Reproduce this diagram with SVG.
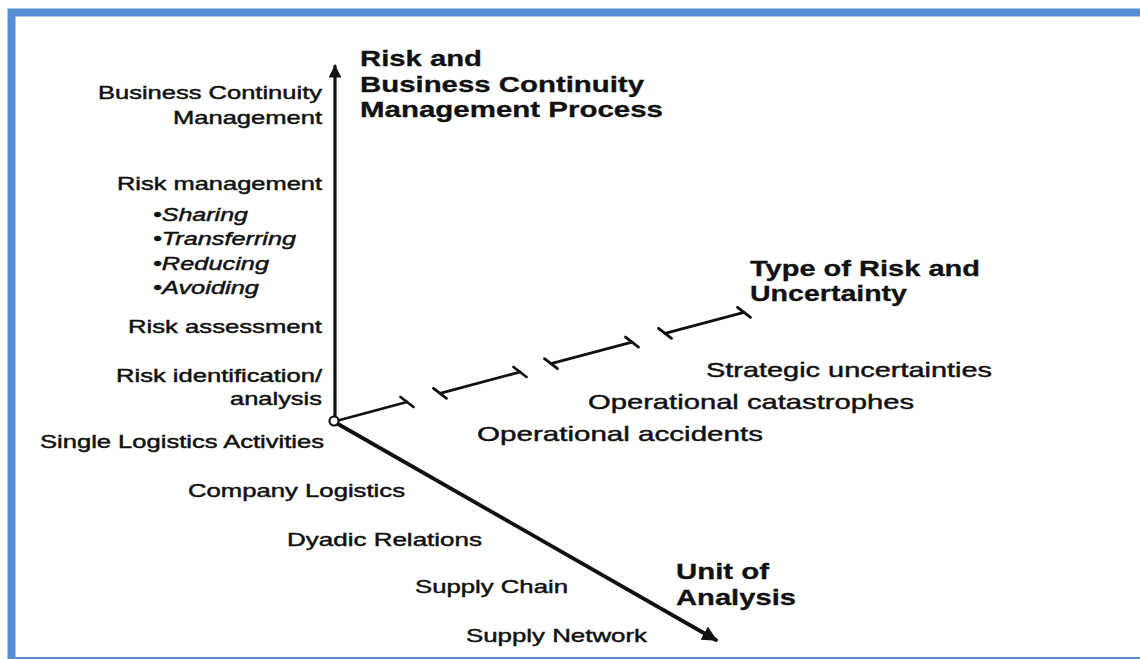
<svg xmlns="http://www.w3.org/2000/svg" width="1140" height="659" viewBox="0 0 1140 659">
<style>
text{font-family:"Liberation Sans",Arial,sans-serif;fill:#111;stroke:#111;stroke-width:0.45px;}
.r{font-size:18.5px;}
.m{font-size:21px;}
.i{font-size:18.5px;font-style:italic;}
.b{font-size:21.5px;font-weight:bold;stroke-width:0.3px;}
.ax{stroke:#111;fill:none;stroke-linecap:round;}
</style>
<defs>
<marker id="ah" viewBox="0 0 10 10" refX="9" refY="5" markerWidth="4" markerHeight="4" orient="auto" markerUnits="strokeWidth">
<path d="M0,0 L10,5 L0,10 z" fill="#111"/>
</marker>
</defs>
<rect x="0" y="0" width="1140" height="659" fill="#fff"/>
<rect x="11.5" y="12.5" width="1150" height="648.5" fill="none" stroke="#558ed5" stroke-width="8"/>
<g id="connectors">
<line class="ax" x1="335" y1="418" x2="335" y2="66" stroke-width="3.2" marker-end="url(#ah)"/>
<line class="ax" x1="338" y1="424" x2="716" y2="640" stroke-width="3.8" marker-end="url(#ah)"/>
<g class="ax" stroke-width="2.8">
<line x1="338" y1="420.5" x2="407" y2="402"/>
<line x1="400.5" y1="397" x2="413.5" y2="407"/>
<line x1="440" y1="393.3" x2="520" y2="372"/>
<line x1="433.5" y1="388.3" x2="446.5" y2="398.3"/>
<line x1="513.5" y1="367" x2="526.5" y2="377"/>
<line x1="551" y1="363.7" x2="632" y2="342.1"/>
<line x1="544.5" y1="358.7" x2="557.5" y2="368.7"/>
<line x1="625.5" y1="337.1" x2="638.5" y2="347.1"/>
<line x1="665" y1="333.3" x2="744" y2="312.3"/>
<line x1="658.5" y1="328.3" x2="671.5" y2="338.3"/>
<line x1="737.5" y1="307.3" x2="750.5" y2="317.3"/>
</g>
<circle cx="334" cy="421" r="4.5" fill="#fff" stroke="#111" stroke-width="2.2"/>
</g>
<g id="axis-process-title">
<text class="b" x="360" y="66" textLength="122" lengthAdjust="spacingAndGlyphs">Risk and</text>
<text class="b" x="360" y="92" textLength="284" lengthAdjust="spacingAndGlyphs">Business Continuity</text>
<text class="b" x="360" y="117" textLength="303" lengthAdjust="spacingAndGlyphs">Management Process</text>
</g>
<g id="bcm">
<text class="r" x="98" y="99" textLength="224" lengthAdjust="spacingAndGlyphs">Business Continuity</text>
<text class="r" x="173" y="124" textLength="149" lengthAdjust="spacingAndGlyphs">Management</text>
</g>
<g id="risk-management">
<text class="r" x="117" y="190" textLength="205" lengthAdjust="spacingAndGlyphs">Risk management</text>
<text class="i" x="153" y="221" textLength="95" lengthAdjust="spacingAndGlyphs">•Sharing</text>
<text class="i" x="153" y="245" textLength="143" lengthAdjust="spacingAndGlyphs">•Transferring</text>
<text class="i" x="153" y="270" textLength="116" lengthAdjust="spacingAndGlyphs">•Reducing</text>
<text class="i" x="153" y="294" textLength="106" lengthAdjust="spacingAndGlyphs">•Avoiding</text>
</g>
<g id="risk-assessment">
<text class="r" x="128" y="333" textLength="194" lengthAdjust="spacingAndGlyphs">Risk assessment</text>
</g>
<g id="risk-identification">
<text class="r" x="116" y="382" textLength="206" lengthAdjust="spacingAndGlyphs">Risk identification/</text>
<text class="r" x="230" y="405" textLength="92" lengthAdjust="spacingAndGlyphs">analysis</text>
</g>
<g id="single-logistics">
<text class="r" x="40" y="448" textLength="284" lengthAdjust="spacingAndGlyphs">Single Logistics Activities</text>
</g>
<g id="company-logistics">
<text class="r" x="188" y="497" textLength="217" lengthAdjust="spacingAndGlyphs">Company Logistics</text>
</g>
<g id="dyadic-relations">
<text class="r" x="287" y="546" textLength="195" lengthAdjust="spacingAndGlyphs">Dyadic Relations</text>
</g>
<g id="supply-chain">
<text class="r" x="415" y="593" textLength="153" lengthAdjust="spacingAndGlyphs">Supply Chain</text>
</g>
<g id="supply-network">
<text class="r" x="466" y="642" textLength="181" lengthAdjust="spacingAndGlyphs">Supply Network</text>
</g>
<g id="axis-unit-title">
<text class="b" x="676" y="579" textLength="93" lengthAdjust="spacingAndGlyphs">Unit of</text>
<text class="b" x="676" y="605" textLength="120" lengthAdjust="spacingAndGlyphs">Analysis</text>
</g>
<g id="axis-type-title">
<text class="b" x="750" y="276" textLength="230" lengthAdjust="spacingAndGlyphs">Type of Risk and</text>
<text class="b" x="750" y="301" textLength="157" lengthAdjust="spacingAndGlyphs">Uncertainty</text>
</g>
<g id="strategic-uncertainties">
<text class="m" x="706" y="377" textLength="286" lengthAdjust="spacingAndGlyphs">Strategic uncertainties</text>
</g>
<g id="operational-catastrophes">
<text class="m" x="588" y="409" textLength="326" lengthAdjust="spacingAndGlyphs">Operational catastrophes</text>
</g>
<g id="operational-accidents">
<text class="m" x="477" y="441" textLength="286" lengthAdjust="spacingAndGlyphs">Operational accidents</text>
</g>
</svg>
